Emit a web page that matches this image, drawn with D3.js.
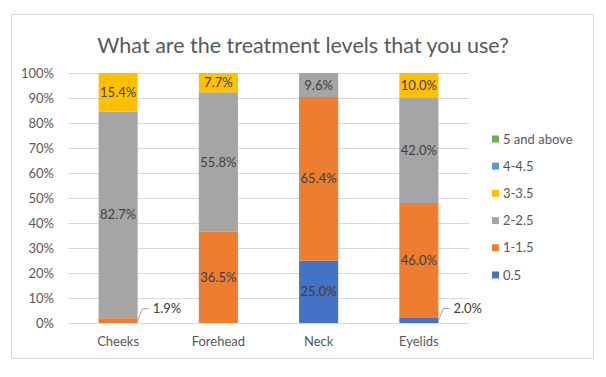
<!DOCTYPE html>
<html>
<head>
<meta charset="utf-8">
<script src="https://cdn.jsdelivr.net/npm/d3@7"></script>
<style>
  body { margin: 0; background: #fff; }
  svg { font-family: "Lato", "Liberation Sans", sans-serif; }
</style>
</head>
<body>
<svg width="606" height="377"></svg>
<script>
// chart data
var categories = ["Cheeks", "Forehead", "Neck", "Eyelids"];
var levels = ["0.5", "1-1.5", "2-2.5", "3-3.5", "4-4.5", "5 and above"];
var colors = ["#4472C4", "#ED7D31", "#A5A5A5", "#FFC000", "#5B9BD5", "#70AD47"];
var lvl05 = [0, 0, 25.0, 2.0];
var lvl1 = [1.9, 36.5, 65.4, 46.0];
var lvl2 = [82.7, 55.8, 9.6, 42.0];
var lvl3 = [15.4, 7.7, 0, 10.0];
var lvl4 = [0, 0, 0, 0];
var lvl5 = [0, 0, 0, 0];
var yTicks = [0, 10, 20, 30, 40, 50, 60, 70, 80, 90, 100];

var series = [lvl05, lvl1, lvl2, lvl3, lvl4, lvl5];
var rows = categories.map(function(c, i) {
    var r = { cat: c };
    levels.forEach(function(l, j) { r[l] = series[j][i]; });
    return r;
});

var svg = d3.select("svg");
var textCol = "#595959";

// outer frame
svg.append("rect")
    .attr("x", 11.5).attr("y", 14.5)
    .attr("width", 582).attr("height", 344)
    .attr("fill", "#fff").attr("stroke", "#d9d9d9");

svg.append("text")
    .attr("x", 303).attr("y", 53)
    .attr("text-anchor", "middle")
    .attr("font-size", 21.5)
    .attr("fill", textCol)
    .text("What are the treatment levels that you use?");

var x = d3.scaleBand().domain(categories).range([68, 469]).paddingInner(0.61).paddingOuter(0.305);
var y = d3.scaleLinear().domain([0, 100]).range([323, 73]);

// gridlines
svg.append("g").selectAll("line")
    .data(yTicks)
    .enter().append("line")
    .attr("x1", 68).attr("x2", 469)
    .attr("y1", d => Math.round(y(d)) + 0.5)
    .attr("y2", d => Math.round(y(d)) + 0.5)
    .attr("stroke", "#d9d9d9");

// y labels
svg.append("g").selectAll("text")
    .data(yTicks)
    .enter().append("text")
    .attr("x", 54)
    .attr("y", d => y(d) + 4.5)
    .attr("text-anchor", "end")
    .attr("font-size", 13)
    .attr("fill", textCol)
    .text(d => d + "%");

var stack = d3.stack().keys(levels)(rows);

var layer = svg.append("g").selectAll("g")
    .data(stack)
    .enter().append("g")
    .attr("fill", (d, i) => colors[i]);

layer.selectAll("rect")
    .data(d => d)
    .enter().append("rect")
    .attr("x", d => x(d.data.cat))
    .attr("width", x.bandwidth())
    .attr("y", d => y(d[1]))
    .attr("height", d => y(d[0]) - y(d[1]));

// data labels
var labels = [];
stack.forEach(function(s) {
    s.forEach(function(d) {
        var v = d[1] - d[0];
        if (v > 0) labels.push({ cat: d.data.cat, v: v, lo: d[0], hi: d[1] });
    });
});

var lab = svg.append("g");
labels.forEach(function(d) {
    var cx = x(d.cat) + x.bandwidth() / 2;
    if (d.v >= 5) {
        lab.append("text")
            .attr("x", cx)
            .attr("y", y((d.lo + d.hi) / 2) + 4.5)
            .attr("text-anchor", "middle")
            .attr("font-size", 13)
            .attr("fill", "#404040")
            .text(d.v.toFixed(1) + "%");
    } else {
        var x0 = x(d.cat) + x.bandwidth();
        var yb = y((d.lo + d.hi) / 2);
        lab.append("path")
            .attr("d", "M" + x0 + "," + yb + "L" + (x0 + 5) + "," + (yb - 12) + "L" + (x0 + 11) + "," + (yb - 12))
            .attr("fill", "none")
            .attr("stroke", "#a6a6a6");
        lab.append("text")
            .attr("x", x0 + 15)
            .attr("y", yb - 7.5)
            .attr("font-size", 13)
            .attr("fill", "#404040")
            .text(d.v.toFixed(1) + "%");
    }
});

// category labels
svg.append("g").selectAll("text")
    .data(categories)
    .enter().append("text")
    .attr("x", d => x(d) + x.bandwidth() / 2)
    .attr("y", 346)
    .attr("text-anchor", "middle")
    .attr("font-size", 13)
    .attr("fill", textCol)
    .text(d => d);

// legend, top item is last series
var legendItems = levels.slice().reverse();
var legend = svg.append("g").selectAll("g")
    .data(legendItems)
    .enter().append("g")
    .attr("transform", (d, i) => "translate(492," + (139 + i * 27.2) + ")");

legend.append("rect")
    .attr("x", 0).attr("y", -3.5)
    .attr("width", 7).attr("height", 7)
    .attr("fill", d => colors[levels.indexOf(d)]);

legend.append("text")
    .attr("x", 11).attr("y", 4.5)
    .attr("font-size", 13)
    .attr("fill", textCol)
    .text(d => d);
</script>
</body>
</html>
